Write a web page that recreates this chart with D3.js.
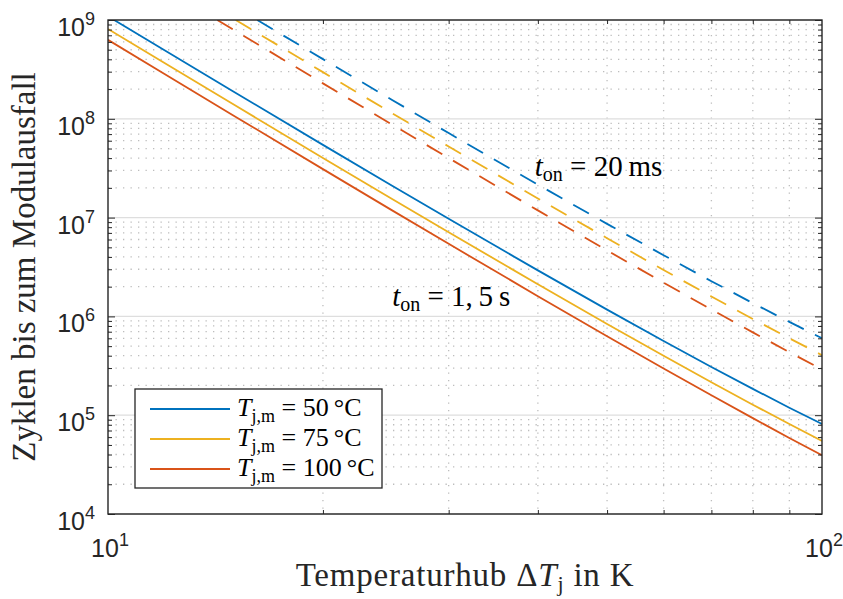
<!DOCTYPE html>
<html>
<head>
<meta charset="utf-8">
<script src="https://cdn.jsdelivr.net/npm/d3@7"></script>
<style>
  body { margin: 0; background: #fff; }
  svg { display: block; }
  .serif { font-family: "Liberation Serif", "DejaVu Serif", serif; }
  .sans { font-family: "Liberation Sans", Arial, sans-serif; }
</style>
</head>
<body>
<svg id="chart" width="843" height="599"></svg>
<script>
// Temperature swing ΔTj in K (x values shared by all series)
const deltaT = [10, 12, 15, 20, 25, 30, 40, 50, 60, 70, 80, 90, 100];

// Cycles to failure, t_on = 1,5 s
const cycles_1s5_tj50  = [1.090e9, 4.935e8, 1.878e8, 5.447e7, 2.101e7, 9.716e6, 2.922e6, 1.171e6, 5.635e5, 3.078e5, 1.847e5, 1.191e5, 8.142e4];
const cycles_1s5_tj75  = [8.120e8, 3.670e8, 1.393e8, 4.020e7, 1.544e7, 7.103e6, 2.115e6, 8.387e5, 3.992e5, 2.155e5, 1.278e5, 8.136e4, 5.486e4];
const cycles_1s5_tj100 = [6.295e8, 2.841e8, 1.076e8, 3.094e7, 1.184e7, 5.425e6, 1.602e6, 6.302e5, 2.973e5, 1.591e5, 9.340e4, 5.888e4, 3.929e4];

// Cycles to failure, t_on = 20 ms
const cycles_20ms_tj50  = [8.045e9, 3.643e9, 1.386e9, 4.020e8, 1.551e8, 7.171e7, 2.156e7, 8.643e6, 4.159e6, 2.272e6, 1.363e6, 8.793e5, 6.009e5];
const cycles_20ms_tj75  = [5.993e9, 2.708e9, 1.028e9, 2.967e8, 1.139e8, 5.242e7, 1.561e7, 6.190e6, 2.946e6, 1.591e6, 9.429e5, 6.005e5, 4.049e5];
const cycles_20ms_tj100 = [4.646e9, 2.097e9, 7.941e8, 2.284e8, 8.737e7, 4.004e7, 1.183e7, 4.652e6, 2.194e6, 1.174e6, 6.894e5, 4.346e5, 2.900e5];

// Mean junction temperatures (legend)
const tjmValues = ["50", "75", "100"];
const seriesColors = ["#0072BD", "#EDB120", "#D95319"];

// Axis ticks
const xMajorTicks = [10, 100];
const xTickExponents = ["1", "2"];
const yMajorTicks = [1e4, 1e5, 1e6, 1e7, 1e8, 1e9];
const yTickExponents = ["4", "5", "6", "7", "8", "9"];

// Annotation texts, anchored at (ΔT, cycles)
const annotations = [
  { sub: "on", rest: " = 20\u2009ms", at: [39.6, 2.64e7] },
  { sub: "on", rest: " = 1,\u20095\u2009s", at: [25.0, 1.27e6] }
];

const svg = d3.select("#chart");
const frame = { left: 108, right: 822, top: 20, bottom: 514 };

const x = d3.scaleLog().domain([10, 100]).range([frame.left, frame.right]);
const y = d3.scaleLog().domain([1e4, 1e9]).range([frame.bottom, frame.top]);

const xMinor = d3.range(2, 10).map(m => m * 10);
const yMinor = [];
for (let k = 4; k < 9; k++) for (let m = 2; m <= 9; m++) yMinor.push(m * Math.pow(10, k));

// ---- grid ----
const grid = svg.append("g");
grid.selectAll("line.xminor").data(xMinor).join("line")
  .attr("x1", d => x(d)).attr("x2", d => x(d))
  .attr("y1", frame.top).attr("y2", frame.bottom)
  .attr("stroke", "#bdbdbd").attr("stroke-width", 1.3).attr("stroke-dasharray", "1.3 6.2");
grid.selectAll("line.yminor").data(yMinor).join("line")
  .attr("x1", frame.left).attr("x2", frame.right)
  .attr("y1", d => y(d)).attr("y2", d => y(d))
  .attr("stroke", "#bdbdbd").attr("stroke-width", 1.3).attr("stroke-dasharray", "1.3 6.2");
grid.selectAll("line.ymajor").data(yMajorTicks).join("line")
  .attr("x1", frame.left).attr("x2", frame.right)
  .attr("y1", d => y(d)).attr("y2", d => y(d))
  .attr("stroke", "#dedede").attr("stroke-width", 1.3);

// ---- curves ----
svg.append("clipPath").attr("id", "plotClip")
  .append("rect").attr("x", frame.left).attr("y", frame.top)
  .attr("width", frame.right - frame.left).attr("height", frame.bottom - frame.top);

// keep only the part of a series below the top of the value axis (log-log interpolation at the crossing)
function clipToTop(xs, ys, yMax) {
  const out = [];
  for (let i = 0; i < xs.length; i++) {
    if (ys[i] <= yMax) {
      if (out.length === 0 && i > 0) {
        const lx0 = Math.log10(xs[i - 1]), lx1 = Math.log10(xs[i]);
        const ly0 = Math.log10(ys[i - 1]), ly1 = Math.log10(ys[i]);
        const t = (Math.log10(yMax) - ly0) / (ly1 - ly0);
        out.push([Math.pow(10, lx0 + t * (lx1 - lx0)), yMax]);
      }
      out.push([xs[i], ys[i]]);
    }
  }
  return out;
}

const line = d3.line().x(d => x(d[0])).y(d => y(d[1]));
const curves = svg.append("g").attr("clip-path", "url(#plotClip)");

const series = [
  { ys: cycles_20ms_tj50,  color: seriesColors[0], dash: true },
  { ys: cycles_20ms_tj75,  color: seriesColors[1], dash: true },
  { ys: cycles_20ms_tj100, color: seriesColors[2], dash: true },
  { ys: cycles_1s5_tj50,   color: seriesColors[0], dash: false },
  { ys: cycles_1s5_tj75,   color: seriesColors[1], dash: false },
  { ys: cycles_1s5_tj100,  color: seriesColors[2], dash: false }
];
curves.selectAll("path").data(series).join("path")
  .attr("d", s => line(clipToTop(deltaT, s.ys, 1e9)))
  .attr("fill", "none")
  .attr("stroke", s => s.color)
  .attr("stroke-width", 1.8)
  .attr("stroke-dasharray", s => s.dash ? "18 12.5" : null);

// ---- ticks (inward, on all four sides) ----
function styleAxis(g) { g.select(".domain").remove(); g.selectAll("text").remove(); g.selectAll(".tick line").attr("stroke", "#262626"); }
svg.append("g").attr("transform", `translate(${frame.left},0)`)
  .call(d3.axisLeft(y).tickValues(yMajorTicks).tickSize(-7)).call(styleAxis);
svg.append("g").attr("transform", `translate(${frame.left},0)`)
  .call(d3.axisLeft(y).tickValues(yMinor).tickSize(-4)).call(styleAxis);
svg.append("g").attr("transform", `translate(${frame.right},0)`)
  .call(d3.axisRight(y).tickValues(yMajorTicks).tickSize(-7)).call(styleAxis);
svg.append("g").attr("transform", `translate(${frame.right},0)`)
  .call(d3.axisRight(y).tickValues(yMinor).tickSize(-4)).call(styleAxis);
svg.append("g").attr("transform", `translate(0,${frame.bottom})`)
  .call(d3.axisBottom(x).tickValues(xMinor).tickSize(-4)).call(styleAxis);
svg.append("g").attr("transform", `translate(0,${frame.top})`)
  .call(d3.axisTop(x).tickValues(xMinor).tickSize(-4)).call(styleAxis);

// frame
svg.append("rect")
  .attr("x", frame.left).attr("y", frame.top)
  .attr("width", frame.right - frame.left).attr("height", frame.bottom - frame.top)
  .attr("fill", "none").attr("stroke", "#262626").attr("stroke-width", 1.4);

// ---- tick labels: 10 with superscript exponent ----
const yLab = svg.append("g").attr("class", "sans").attr("fill", "#262626");
yLab.selectAll("text").data(yMajorTicks).join("text")
  .attr("x", frame.left - 13).attr("y", d => y(d) + 16)
  .attr("text-anchor", "end").attr("font-size", 25)
  .each(function (d, i) {
    const t = d3.select(this);
    t.append("tspan").text("10");
    t.append("tspan").attr("dy", -11).attr("font-size", 18).text(yTickExponents[i]);
  });
const xLab = svg.append("g").attr("class", "sans").attr("fill", "#262626");
xLab.selectAll("text").data(xMajorTicks).join("text")
  .attr("x", d => x(d) + 2).attr("y", frame.bottom + 43)
  .attr("text-anchor", "middle").attr("font-size", 25)
  .each(function (d, i) {
    const t = d3.select(this);
    t.append("tspan").text("10");
    t.append("tspan").attr("dy", -11).attr("font-size", 18).text(xTickExponents[i]);
  });

// ---- axis titles ----
const titles = svg.append("g").attr("class", "serif").attr("fill", "#262626").attr("font-size", 33);
const xTitle = titles.append("text")
  .attr("x", (frame.left + frame.right) / 2).attr("y", 586)
  .attr("text-anchor", "middle").attr("letter-spacing", 0.8);
xTitle.append("tspan").text("Temperaturhub \u0394");
xTitle.append("tspan").attr("font-style", "italic").text("T");
xTitle.append("tspan").attr("font-size", 22).attr("dy", 5).text("j");
xTitle.append("tspan").attr("dy", -5).text(" in K");

titles.append("text")
  .attr("transform", `translate(35,${(frame.top + frame.bottom) / 2}) rotate(-90)`)
  .attr("text-anchor", "middle")
  .text("Zyklen bis zum Modulausfall");

// ---- annotations ----
const ann = svg.append("g").attr("class", "serif").attr("fill", "#000");
ann.selectAll("text").data(annotations).join("text")
  .attr("x", d => x(d.at[0])).attr("y", d => y(d.at[1]))
  .attr("font-size", 29)
  .each(function (d) {
    const t = d3.select(this);
    t.append("tspan").attr("font-style", "italic").text("t");
    t.append("tspan").attr("font-size", 20).attr("dy", 5).text(d.sub);
    t.append("tspan").attr("dy", -5).text(d.rest);
  });

// ---- legend ----
const legend = svg.append("g");
legend.append("rect").attr("x", 135).attr("y", 389).attr("width", 247).attr("height", 99)
  .attr("fill", "#fff").attr("stroke", "#262626").attr("stroke-width", 1.3);
const rows = legend.selectAll("g.row").data(tjmValues).join("g")
  .attr("transform", (d, i) => `translate(0,${409 + i * 30})`);
rows.append("line").attr("x1", 150).attr("x2", 230)
  .attr("stroke", (d, i) => seriesColors[i]).attr("stroke-width", 1.8);
rows.append("text").attr("class", "serif").attr("x", 237).attr("y", 7)
  .attr("font-size", 26).attr("fill", "#000")
  .each(function (d) {
    const t = d3.select(this);
    t.append("tspan").attr("font-style", "italic").text("T");
    t.append("tspan").attr("font-size", 18).attr("dy", 6).text("j,m");
    t.append("tspan").attr("dy", -6).text(` = ${d}\u2009\u00B0C`);
  });
</script>
</body>
</html>
